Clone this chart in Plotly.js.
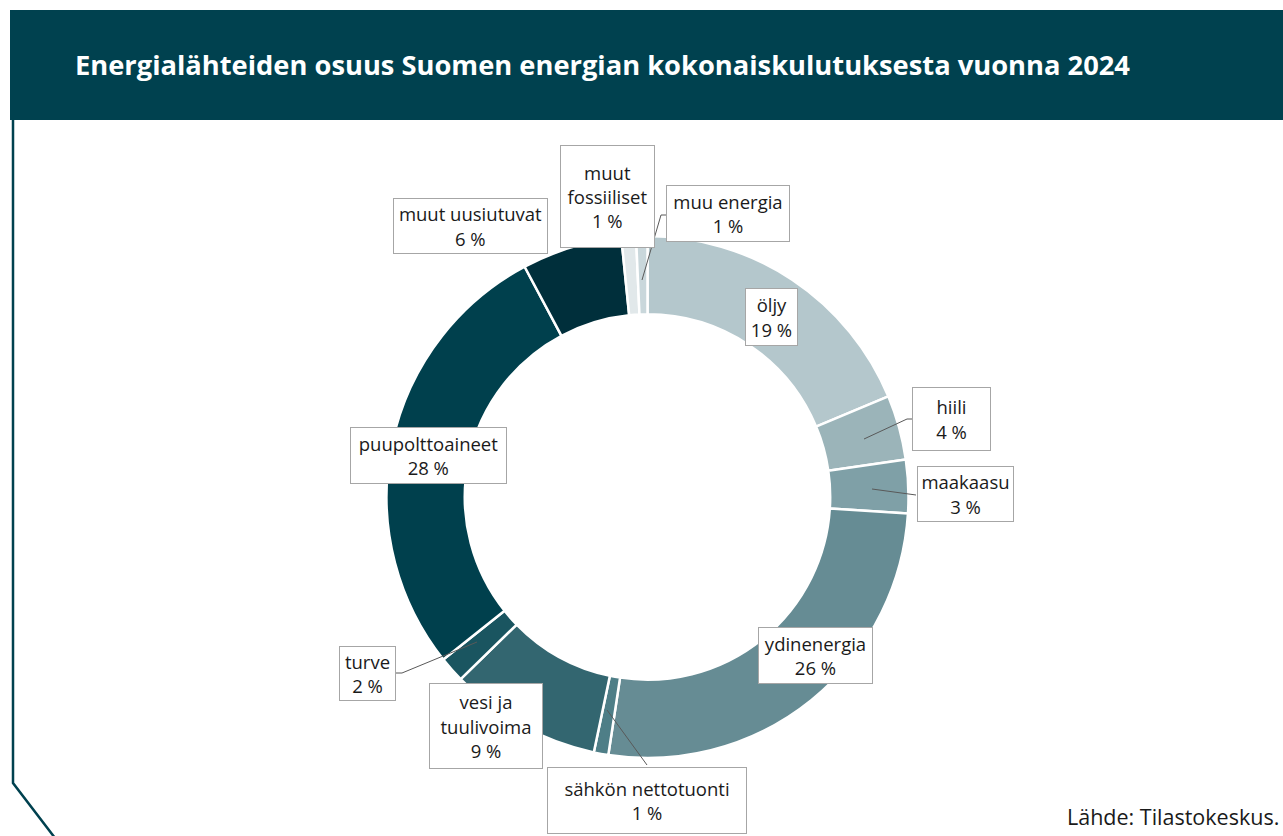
<!DOCTYPE html>
<html>
<head>
<meta charset="utf-8">
<script src="https://cdn.plot.ly/plotly-3.0.1.min.js"></script>
<style>
html,body{margin:0;padding:0;background:#fff;}
#chart{width:1283px;height:836px;}
</style>
</head>
<body>
<div id="chart"></div>
<script>
// ---- data ----
const categories = ["öljy","hiili","maakaasu","ydinenergia","sähkön nettotuonti","vesi ja tuulivoima","turve","puupolttoaineet","muut uusiutuvat","muut fossiiliset","muu energia"];
const shares = [18.7, 4.0, 3.3, 26.4, 0.9, 9.4, 1.6, 27.9, 6.2, 0.9, 0.7];
const labelTexts = ["öljy","hiili","maakaasu","ydinenergia","sähkön nettotuonti","vesi ja<br>tuulivoima","turve","puupolttoaineet","muut uusiutuvat","muut<br>fossiiliset","muu energia"];
const titleText = "Energialähteiden osuus Suomen energian kokonaiskulutuksesta vuonna 2024";
const sourceText = "Lähde: Tilastokeskus.";

// ---- styles ----
const colors = ["#B4C7CC","#9BB4B9","#7FA0A7","#668C94","#4E7E87","#336670","#1A5560","#00404D","#002F3B","#E1E8EA","#C9D7DB"];
const W = 1283, H = 836;
const px = x => x / W;
const py = y => 1 - y / H;
const font = "'Open Sans', 'Noto Sans', sans-serif";
const dark = "#00414F";

// label boxes (pixel: center x, center y, width, height)
const boxes = [
  [771, 317, 53, 58],
  [952, 419, 79, 64],
  [965, 494, 97, 56],
  [815, 655, 115, 57],
  [647, 800, 200, 67],
  [486, 726, 114, 86],
  [367, 673, 57, 55],
  [428, 455, 157, 57],
  [470, 226, 155, 56],
  [607, 196, 95, 103],
  [728, 213, 124, 57]
];
// leader lines (pixel paths)
const leaders = [
  [[913,419],[907,419],[864,439]],
  [[916,495],[872,489]],
  [[647,765],[607,710]],
  [[396,673],[402,673],[477,642]],
  [[666,215],[661,215],[642,280]]
];

// pie geometry
const cx = 647.5, cy = 497, r = 261;

const trace = {
  type: "pie",
  labels: categories,
  values: shares,
  sort: false,
  direction: "clockwise",
  rotation: 0,
  hole: 0.7,
  textinfo: "none",
  hoverinfo: "none",
  marker: {colors: colors, line: {color: "#ffffff", width: 2.5}},
  domain: {x: [px(cx - r), px(cx + r)], y: [py(cy + r), py(cy - r)]},
  showlegend: false
};

const annotations = categories.map((c, i) => {
  const b = boxes[i];
  return {
    xref: "paper", yref: "paper",
    x: px(b[0]), y: py(b[1]),
    xanchor: "center", yanchor: "middle",
    text: labelTexts[i] + "<br>" + Math.round(shares[i]) + " %",
    showarrow: false,
    align: "center",
    font: {family: font, size: 18.5, color: "#1a1a1a"},
    bgcolor: "#ffffff",
    bordercolor: "#a6a6a6",
    borderwidth: 1,
    borderpad: 0,
    width: b[2] - 2,
    height: b[3] - 2
  };
});
annotations.push({
  xref: "paper", yref: "paper",
  x: px(1281), y: py(816),
  xanchor: "right", yanchor: "middle",
  text: sourceText, showarrow: false,
  font: {family: font, size: 21.5, color: "#1a1a1a"}
});

const shapes = [
  {type: "rect", xref: "paper", yref: "paper", x0: px(10), x1: px(1283), y0: py(120), y1: py(10),
   fillcolor: dark, line: {width: 0}, layer: "below"},
  {type: "path", xref: "paper", yref: "paper",
   path: `M ${px(13)} ${py(120)} L ${px(13)} ${py(783)} L ${px(55)} ${py(838)}`,
   line: {color: dark, width: 2.5}}
];
leaders.forEach(pts => {
  const p = pts.map((q, k) => (k ? "L " : "M ") + px(q[0]) + " " + py(q[1])).join(" ");
  shapes.push({type: "path", xref: "paper", yref: "paper", path: p, line: {color: "#595959", width: 1}});
});

const layout = {
  width: W, height: H,
  margin: {l: 0, r: 0, t: 0, b: 0},
  paper_bgcolor: "#ffffff",
  plot_bgcolor: "#ffffff",
  title: {
    text: "<b>" + titleText + "</b>",
    x: px(75), xanchor: "left",
    y: py(65), yanchor: "middle",
    xref: "paper", yref: "paper",
    font: {family: font, size: 27.3, color: "#ffffff"}
  },
  shapes: shapes,
  annotations: annotations
};

Plotly.newPlot("chart", [trace], layout, {displayModeBar: false, staticPlot: true});
</script>
</body>
</html>
